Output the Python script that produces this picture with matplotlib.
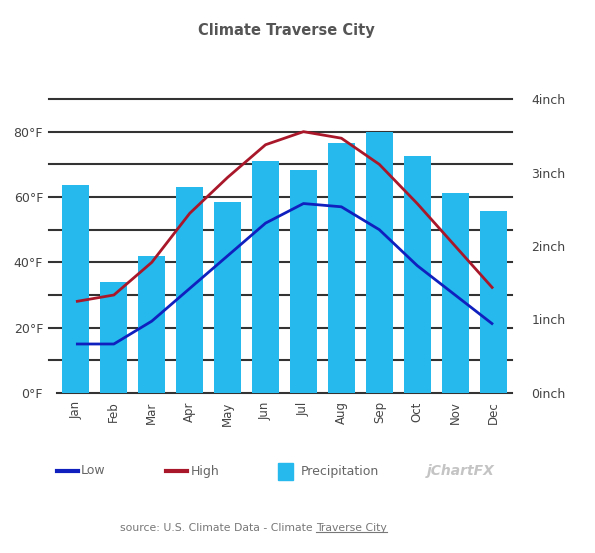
import numpy as np
import matplotlib
matplotlib.use("Agg")
import matplotlib.pyplot as plt
from matplotlib.lines import Line2D
from matplotlib.patches import Rectangle

W, H = 595, 553

months = ["Jan", "Feb", "Mar", "Apr", "May", "Jun",
          "Jul", "Aug", "Sep", "Oct", "Nov", "Dec"]
low_f = [15, 15, 22, 32, 42, 52, 58, 57, 50, 39, 30, 21]
high_f = [28, 30, 40, 55, 66, 76, 80, 78, 70, 58, 45, 32]
precip_in = [2.83, 1.51, 1.86, 2.80, 2.60, 3.16, 3.03, 3.40, 3.55, 3.22, 2.72, 2.48]

temp_ticks = [0, 20, 40, 60, 80]
inch_ticks = [0, 1, 2, 3, 4]

bar_col = "#25B9EE"
low_col = "#1020BE"
high_col = "#A9182A"
grid_col = "#333333"
text_col = "#444444"

def fx(px):
    return px / W

def fy(py):
    return 1 - py / H

fig = plt.figure(figsize=(W / 100, H / 100), dpi=100)
ax = fig.add_axes([fx(57), fy(393), fx(512) - fx(57), fy(99) - fy(393)])
ax2 = ax.twinx()

x = np.arange(len(months))
ax.set_xlim(-0.5, 11.5)
ax.set_ylim(0, 90)
ax2.set_ylim(0, 4)

# bars on the inch axis, drawn over the grid and under the temperature lines
ax2.set_zorder(1)
ax.set_zorder(2)
ax.patch.set_visible(False)

step = 1 / 37.8
for v in range(0, 91, 10):
    x0 = -0.5 if v == 0 else -0.5 - 8 * step
    ax2.plot([x0, 11.5], [v * 4 / 90] * 2, color=grid_col, lw=1.5, clip_on=False, zorder=1)
ax2.bar(x, precip_in, width=0.71, color=bar_col, zorder=2)

ax.plot(x, low_f, color=low_col, lw=2, zorder=5, solid_capstyle="butt")
ax.plot(x, high_f, color=high_col, lw=2, zorder=5, solid_capstyle="butt")

for a in (ax, ax2):
    for s in a.spines.values():
        s.set_visible(False)

ax.set_xticks(x)
ax.set_xticklabels(months, rotation=90, fontsize=8.5, color=text_col)
ax.tick_params(axis="x", length=0, pad=6)
ax.set_yticks(temp_ticks)
ax.set_yticklabels([f"{t}°F" for t in temp_ticks], fontsize=9, color=text_col)
ax.tick_params(axis="y", length=0, pad=10)
ax2.set_yticks(inch_ticks)
ax2.set_yticklabels([f"{t}inch" for t in inch_ticks], fontsize=9, color=text_col)
ax2.tick_params(axis="y", length=0, pad=14)

fig.text(fx(286), fy(31), "Climate Traverse City", ha="center", va="center",
         fontsize=10.5, fontweight="bold", color="#555555")

# legend
ly = fy(471)
fig.add_artist(Line2D([fx(57), fx(78)], [ly, ly], color=low_col, lw=3))
fig.text(fx(81), ly, "Low", va="center", fontsize=9, color="#666666")
fig.add_artist(Line2D([fx(166), fx(187)], [ly, ly], color=high_col, lw=3))
fig.text(fx(191), ly, "High", va="center", fontsize=9, color="#666666")
fig.add_artist(Rectangle((fx(278), fy(480)), fx(15), fy(463) - fy(480),
                         transform=fig.transFigure, color=bar_col))
fig.text(fx(301), ly, "Precipitation", va="center", fontsize=9, color="#666666")
fig.text(fx(495), ly, "jChartFX", ha="right", va="center", fontsize=10,
         fontstyle="italic", fontweight="bold", color="#c4c4c4")

# source line with underlined city
sy = fy(528)
fig.text(fx(313), sy, "source: U.S. Climate Data - Climate", ha="right", va="center",
         fontsize=7.8, color="#777777")
t = fig.text(fx(316), sy, "Traverse City", ha="left", va="center",
             fontsize=7.8, color="#777777")
fig.canvas.draw()
bb = t.get_window_extent(fig.canvas.get_renderer()).transformed(fig.transFigure.inverted())
fig.add_artist(Line2D([bb.x0, bb.x1], [bb.y0 + 0.002, bb.y0 + 0.002], color="#777777", lw=0.8))

fig.savefig("out.png", dpi=100)
